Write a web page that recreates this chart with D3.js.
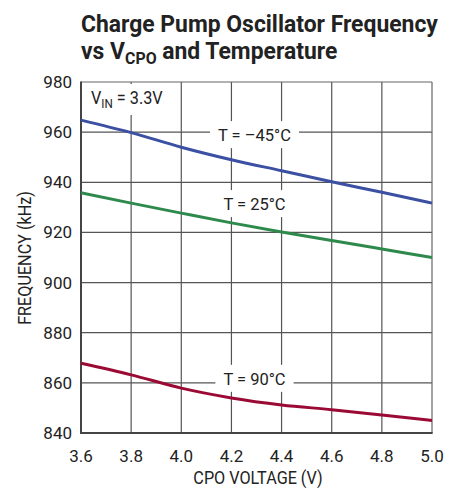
<!DOCTYPE html>
<html><head><meta charset="utf-8">
<script src="https://cdn.jsdelivr.net/npm/d3@7"></script>
<style>body{margin:0;background:#fff}svg{display:block}text{font-family:"Roboto","Liberation Sans",sans-serif}</style>
</head><body><svg id="c" width="463" height="491"></svg>
<script>
const voltages = [3.6, 3.8, 4.0, 4.2, 4.4, 4.6, 4.8, 5.0];
const freqM45 = [964.8, 959.8, 954.0, 949.0, 944.6, 940.2, 936.0, 931.7];
const freq25  = [935.8, 931.7, 927.7, 923.8, 920.2, 916.8, 913.4, 910.0];
const freq90  = [867.8, 863.2, 857.9, 854.0, 851.2, 849.3, 847.2, 845.0];
const xTicks = [3.6, 3.8, 4.0, 4.2, 4.4, 4.6, 4.8, 5.0];
const yTicks = [840, 860, 880, 900, 920, 940, 960, 980];
const series = [
  {name: "T = \u201345\u00b0C", values: freqM45, color: "#3b4fa3", lx: 4.292, ly: 960},
  {name: "T = 25\u00b0C", values: freq25, color: "#2e8a4c", lx: 4.292, ly: 932.5},
  {name: "T = 90\u00b0C", values: freq90, color: "#9b0a35", lx: 4.292, ly: 862.8}
];
const svg = d3.select("#c");
const L = 81, R = 432, T = 82, B = 433;
const x = d3.scaleLinear().domain([3.6, 5.0]).range([L, R]);
const y = d3.scaleLinear().domain([840, 980]).range([B, T]);
const grid = svg.append("g");
grid.selectAll(".vx").data(xTicks.slice(1, -1)).enter().append("line")
  .attr("x1", d => x(d)).attr("x2", d => x(d)).attr("y1", T).attr("y2", B)
  .attr("stroke", "#555").attr("stroke-width", 1.2);
grid.selectAll(".hy").data(yTicks.slice(1, -1)).enter().append("line")
  .attr("x1", L).attr("x2", R).attr("y1", d => y(d)).attr("y2", d => y(d))
  .attr("stroke", "#555").attr("stroke-width", 1.2);
// Vin label background
svg.append("rect").attr("x", L + 2).attr("y", T + 2).attr("width", 90).attr("height", 31).attr("fill", "#fff");
// frame
svg.append("line").attr("x1", L).attr("x2", R).attr("y1", T).attr("y2", T).attr("stroke", "#666").attr("stroke-width", 1.2);
svg.append("line").attr("x1", R).attr("x2", R).attr("y1", T).attr("y2", B).attr("stroke", "#666").attr("stroke-width", 1.2);
svg.append("line").attr("x1", L).attr("x2", L).attr("y1", T - 0.6).attr("y2", B + 1).attr("stroke", "#444").attr("stroke-width", 2);
svg.append("line").attr("x1", L - 1).attr("x2", R + 0.6).attr("y1", B).attr("y2", B).attr("stroke", "#444").attr("stroke-width", 2);
// Vin label
const vin = svg.append("text").attr("x", 91).attr("y", 104.5).attr("font-size", 17.5).attr("fill", "#222")
  .attr("transform", "translate(91,0) scale(0.93,1) translate(-91,0)");
vin.append("tspan").text("V");
vin.append("tspan").attr("font-size", 12.5).attr("dy", 3.5).text("IN");
vin.append("tspan").attr("dy", -3.5).text(" = 3.3V");
// series labels with white backgrounds
series.forEach(s => {
  const t = svg.append("text").attr("x", x(s.lx)).attr("y", y(s.ly) + 9)
    .attr("text-anchor", "middle").attr("font-size", 16.5).attr("fill", "#222").text(s.name);
  const bb = t.node().getBBox();
  svg.insert("rect", "text").attr("x", bb.x - 8).attr("y", bb.y - 5).attr("width", bb.width + 16).attr("height", bb.height + 8).attr("fill", "#fff");
});
// curves
const line = d3.line().x((d, i) => x(voltages[i])).y(d => y(d)).curve(d3.curveMonotoneX);
series.forEach(s => {
  svg.append("path").datum(s.values).attr("d", line).attr("fill", "none")
    .attr("stroke", s.color).attr("stroke-width", 3);
});
// tick labels
svg.selectAll(".xt").data(xTicks).enter().append("text")
  .attr("x", d => x(d)).attr("y", 462).attr("text-anchor", "middle")
  .attr("font-size", 17).attr("fill", "#222").text(d => d.toFixed(1));
svg.selectAll(".yt").data(yTicks).enter().append("text")
  .attr("x", 72).attr("y", d => y(d) + 6).attr("text-anchor", "end")
  .attr("font-size", 17).attr("fill", "#222").text(d => d);
// axis titles
svg.append("text").attr("transform", "translate(258,484) scale(0.9,1)").attr("text-anchor", "middle")
  .attr("font-size", 18).attr("fill", "#222").text("CPO VOLTAGE (V)");
svg.append("text").attr("transform", "translate(31,258) rotate(-90) scale(0.9,1)").attr("text-anchor", "middle")
  .attr("font-size", 18).attr("fill", "#222").text("FREQUENCY (kHz)");
// title
svg.append("text").attr("transform", "translate(81,32) scale(0.935,1)").attr("font-size", 24.5).attr("font-weight", "bold").attr("fill", "#222")
  .text("Charge Pump Oscillator Frequency");
const t2 = svg.append("text").attr("transform", "translate(81,59) scale(0.935,1)").attr("font-size", 24.5).attr("font-weight", "bold").attr("fill", "#222");
t2.append("tspan").text("vs V");
t2.append("tspan").attr("font-size", 17).attr("dy", 5).text("CPO");
t2.append("tspan").attr("dy", -5).text(" and Temperature");
</script></body></html>
